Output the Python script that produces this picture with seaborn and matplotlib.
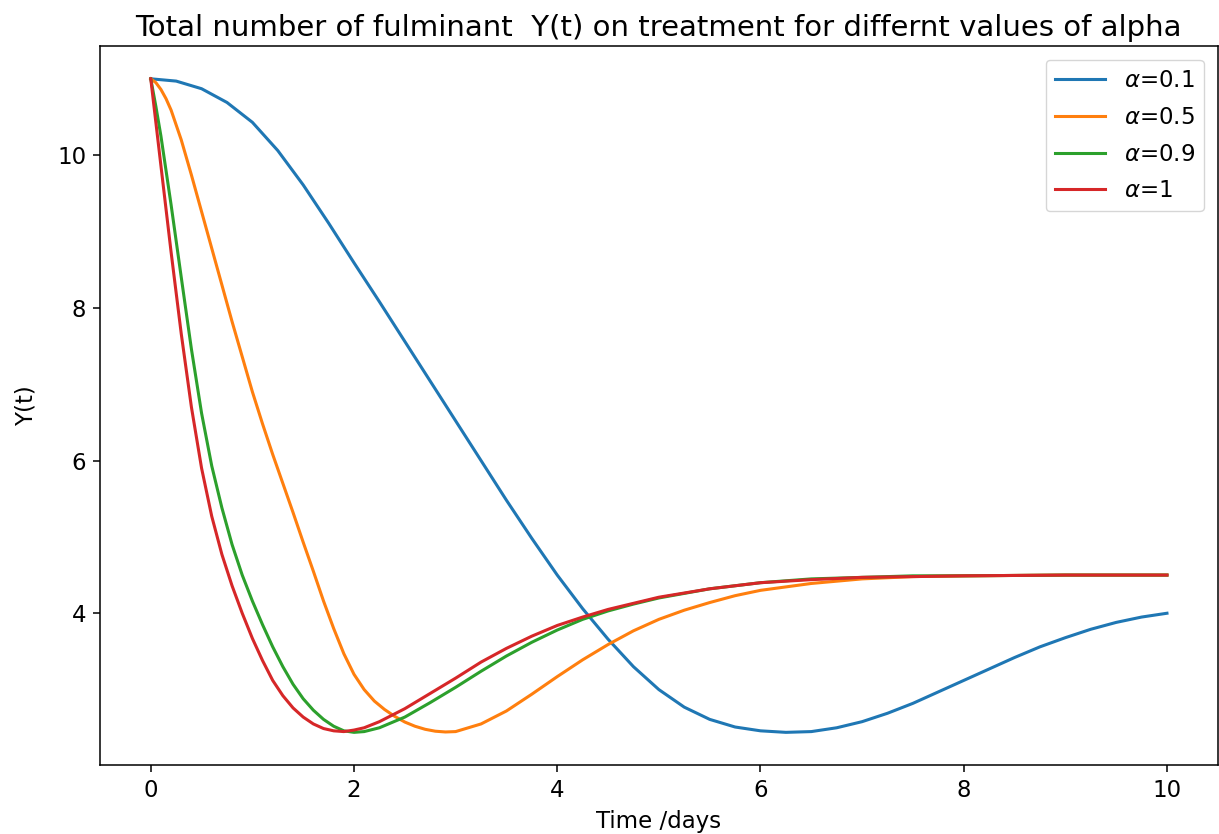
import matplotlib
matplotlib.use("Agg")
import matplotlib.pyplot as plt
import seaborn as sns
import pandas as pd

# ---- data ----
labels = [r"$\alpha$=0.1", r"$\alpha$=0.5", r"$\alpha$=0.9", r"$\alpha$=1"]

t_a01 = [0, 0.25, 0.5, 0.75, 1.0, 1.25, 1.5, 1.75, 2.0, 2.25, 2.5, 2.75, 3.0, 3.25,
         3.5, 3.75, 4.0, 4.25, 4.5, 4.75, 5.0, 5.25, 5.5, 5.75, 6.0, 6.25, 6.5, 6.75,
         7.0, 7.25, 7.5, 7.75, 8.0, 8.25, 8.5, 8.75, 9.0, 9.25, 9.5, 9.75, 10.0]
y_a01 = [11.0, 10.97, 10.87, 10.69, 10.43, 10.06, 9.61, 9.11, 8.59, 8.08, 7.56, 7.04,
         6.52, 6.00, 5.48, 4.98, 4.50, 4.06, 3.66, 3.30, 3.00, 2.77, 2.61, 2.51, 2.46,
         2.44, 2.45, 2.50, 2.58, 2.69, 2.82, 2.97, 3.12, 3.27, 3.42, 3.56, 3.68, 3.79,
         3.88, 3.95, 4.00]

t_a05 = [0, 0.05, 0.1, 0.15, 0.2, 0.3, 0.4, 0.5, 0.6, 0.7, 0.8, 0.9, 1.0, 1.1, 1.2,
         1.3, 1.4, 1.5, 1.6, 1.7, 1.8, 1.9, 2.0, 2.1, 2.2, 2.3, 2.4, 2.5, 2.6, 2.7,
         2.8, 2.9, 3.0, 3.25, 3.5, 3.75, 4.0, 4.25, 4.5, 4.75, 5.0, 5.25, 5.5, 5.75,
         6.0, 6.5, 7.0, 7.5, 8.0, 9.0, 10.0]
y_a05 = [11.0, 10.95, 10.86, 10.74, 10.59, 10.20, 9.74, 9.26, 8.78, 8.30, 7.82, 7.36,
         6.90, 6.48, 6.08, 5.70, 5.32, 4.93, 4.55, 4.16, 3.80, 3.47, 3.20, 3.00, 2.85,
         2.74, 2.65, 2.575, 2.52, 2.48, 2.455, 2.445, 2.45, 2.55, 2.72, 2.94, 3.17,
         3.39, 3.59, 3.77, 3.92, 4.04, 4.14, 4.23, 4.30, 4.39, 4.45, 4.48, 4.49, 4.50,
         4.50]

t_a09 = [0, 0.05, 0.1, 0.2, 0.3, 0.4, 0.5, 0.6, 0.7, 0.8, 0.9, 1.0, 1.1, 1.2, 1.3,
         1.4, 1.5, 1.6, 1.7, 1.8, 1.9, 2.0, 2.1, 2.25, 2.5, 2.75, 3.0, 3.25, 3.5,
         3.75, 4.0, 4.25, 4.5, 4.75, 5.0, 5.5, 6.0, 6.5, 7.0, 7.5, 8.0, 9.0, 10.0]
y_a09 = [11.0, 10.64, 10.25, 9.35, 8.40, 7.46, 6.62, 5.93, 5.38, 4.90, 4.50, 4.16,
         3.85, 3.56, 3.30, 3.07, 2.88, 2.73, 2.61, 2.52, 2.46, 2.44, 2.45, 2.50, 2.64,
         2.83, 3.03, 3.24, 3.44, 3.62, 3.78, 3.92, 4.03, 4.12, 4.20, 4.32, 4.40, 4.45,
         4.47, 4.49, 4.49, 4.50, 4.50]

t_a1 = [0, 0.1, 0.2, 0.3, 0.4, 0.5, 0.6, 0.7, 0.8, 0.9, 1.0, 1.1, 1.2, 1.3, 1.4, 1.5,
        1.6, 1.7, 1.8, 1.9, 2.0, 2.1, 2.25, 2.5, 2.75, 3.0, 3.25, 3.5, 3.75, 4.0,
        4.25, 4.5, 4.75, 5.0, 5.5, 6.0, 6.5, 7.0, 7.5, 8.0, 9.0, 10.0]
y_a1 = [11.0, 9.86, 8.73, 7.66, 6.70, 5.90, 5.27, 4.77, 4.36, 4.00, 3.67, 3.38, 3.12,
        2.92, 2.76, 2.64, 2.55, 2.49, 2.46, 2.45, 2.47, 2.50, 2.58, 2.75, 2.95, 3.15,
        3.36, 3.54, 3.70, 3.84, 3.95, 4.05, 4.13, 4.21, 4.32, 4.40, 4.44, 4.47, 4.48,
        4.49, 4.50, 4.50]

colors = ["#1f77b4", "#ff7f0e", "#2ca02c", "#d62728"]

frames = []
for lab, tt, yy in zip(labels, [t_a01, t_a05, t_a09, t_a1], [y_a01, y_a05, y_a09, y_a1]):
    frames.append(pd.DataFrame({"t": tt, "Y": yy, "series": lab}))
df = pd.concat(frames, ignore_index=True)

fig = plt.figure(figsize=(12.19, 8.34), dpi=100)
ax = fig.add_axes([0.082, 0.0827, 0.917, 0.862])

sns.lineplot(data=df, x="t", y="Y", hue="series", hue_order=labels,
             palette=colors, ax=ax, linewidth=2.2, errorbar=None, estimator=None)

handles, labs = ax.get_legend_handles_labels()
ax.legend(handles, labs, loc="upper right", fontsize=16.5, frameon=True,
          handlelength=2.2, borderaxespad=0.6, labelspacing=0.6)

ax.set_title("Total number of fulminant  Y(t) on treatment for differnt values of alpha",
             fontsize=21, pad=7)
ax.set_xlabel("Time /days", fontsize=16.5, labelpad=6)
ax.set_ylabel("Y(t)", fontsize=16.5, labelpad=14)
ax.tick_params(labelsize=16.5, length=5, width=1.1, pad=5)
for s in ax.spines.values():
    s.set_linewidth(1.1)

fig.savefig("out.png", dpi=100)
